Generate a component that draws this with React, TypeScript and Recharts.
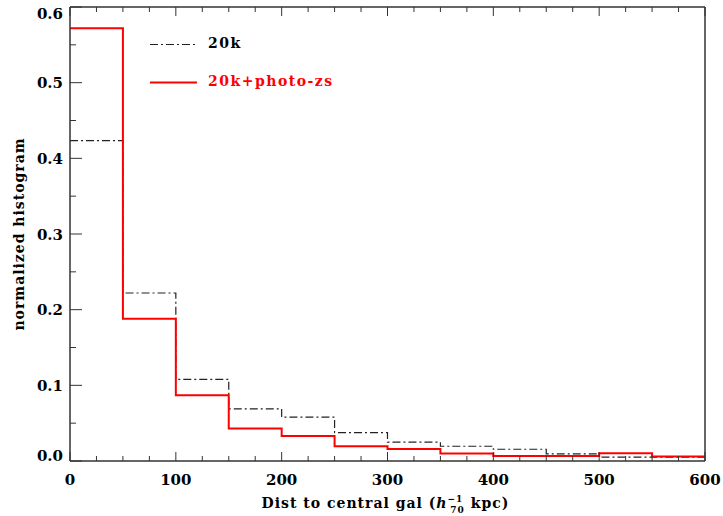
import React from 'react';
import { ComposedChart, Line, XAxis, YAxis, Legend } from 'recharts';

const binEdges = [0, 50, 100, 150, 200, 250, 300, 350, 400, 450, 500, 550, 600];
// value for each bin (last value repeated to close the final step)
const series20k = [0.4235, 0.222, 0.108, 0.069, 0.058, 0.0376, 0.025, 0.0195, 0.0155, 0.0095, 0.0052, 0.005, 0.005];
const series20kPhoto = [0.572, 0.188, 0.087, 0.043, 0.033, 0.0195, 0.016, 0.010, 0.0066, 0.0066, 0.0102, 0.0058, 0.0058];
const xTicks = [0, 25, 50, 75, 100, 125, 150, 175, 200, 225, 250, 275, 300, 325, 350, 375, 400, 425, 450, 475, 500, 525, 550, 575, 600];
const yTicks = [0, 0.05, 0.1, 0.15, 0.2, 0.25, 0.3, 0.35, 0.4, 0.45, 0.5, 0.55, 0.6];

const data = binEdges.map((x, i) => ({ x, a: series20k[i], b: series20kPhoto[i] }));

const FONT = '"DejaVu Serif", serif';
const AXIS = '#333';

const isMajorX = (v: number) => Math.abs(v % 100) < 1e-6;
const isMajorY = (v: number) => Math.abs(Math.round(v * 100) % 10) < 1e-6;

const BottomTick = (p: any) => {
  const { x, y, payload } = p;
  const v = payload.value;
  const major = isMajorX(v);
  return (
    <g>
      <line x1={x} y1={y} x2={x} y2={y - (major ? 9 : 5)} stroke={AXIS} strokeWidth={1} />
      {major && (
        <text x={x} y={y + 24} textAnchor="middle" fontFamily={FONT} fontWeight="bold" fontSize={15} fill="#000">
          {v}
        </text>
      )}
    </g>
  );
};

const TopTick = (p: any) => {
  const { x, y, payload } = p;
  const major = isMajorX(payload.value);
  return <line x1={x} y1={y} x2={x} y2={y + (major ? 9 : 5)} stroke={AXIS} strokeWidth={1} />;
};

const LeftTick = (p: any) => {
  const { x, y, payload } = p;
  const v = payload.value;
  const major = isMajorY(v);
  const shift = v < 1e-6 ? -6 : v > 0.59 ? 6 : 0;
  return (
    <g>
      <line x1={x} y1={y} x2={x + (major ? 12 : 6)} y2={y} stroke={AXIS} strokeWidth={1} />
      {major && (
        <text x={x - 7} y={y + 5.5 + shift} textAnchor="end" fontFamily={FONT} fontWeight="bold" fontSize={15} fill="#000">
          {v.toFixed(1)}
        </text>
      )}
    </g>
  );
};

const RightTick = (p: any) => {
  const { x, y, payload } = p;
  const major = isMajorY(payload.value);
  return <line x1={x} y1={y} x2={x - (major ? 12 : 6)} y2={y} stroke={AXIS} strokeWidth={1} />;
};

const XLabel = (p: any) => {
  const vb = p.viewBox || {};
  const cx = (vb.x || 0) + (vb.width || 0) / 2;
  return (
    <text x={cx - 2} y={507.5} textAnchor="middle" fontFamily={FONT} fontWeight="bold" fontSize={14} letterSpacing={1} fill="#000">
      <tspan>Dist to central gal (</tspan>
      <tspan fontStyle="italic">h</tspan>
      <tspan dy={-6} fontSize={9}>−1</tspan>
      <tspan dx={-13} dy={11} fontSize={9}>70</tspan>
      <tspan dy={-5}> kpc)</tspan>
    </text>
  );
};

const YLabel = (p: any) => {
  const vb = p.viewBox || {};
  const cy = (vb.y || 0) + (vb.height || 0) / 2;
  return (
    <text x={24} y={cy} transform={`rotate(-90, 24, ${cy})`} textAnchor="middle" fontFamily={FONT} fontWeight="bold" fontSize={14} letterSpacing={1} fill="#000">
      normalized histogram
    </text>
  );
};

const LegendContent = () => (
  <div style={{ position: 'absolute', left: 150, top: 30, fontFamily: FONT, fontWeight: 'bold', fontSize: 14, letterSpacing: 1.5 }}>
    <div style={{ position: 'absolute', left: 0, top: 0, whiteSpace: 'nowrap', height: 28 }}>
      <svg width={48} height={28} style={{ position: 'absolute', left: 0, top: 0 }}>
        <line x1={0} y1={14.5} x2={47} y2={14.5} stroke="#222" strokeWidth={1.2} strokeDasharray="8 3 2 3" />
      </svg>
      <span style={{ position: 'absolute', left: 58, top: 5, color: '#000' }}>20k</span>
    </div>
    <div style={{ position: 'absolute', left: 0, top: 38, whiteSpace: 'nowrap', height: 28 }}>
      <svg width={48} height={28} style={{ position: 'absolute', left: 0, top: 0 }}>
        <line x1={0} y1={14.5} x2={47} y2={14.5} stroke="#ff0000" strokeWidth={2} />
      </svg>
      <span style={{ position: 'absolute', left: 58, top: 5, color: '#ff0000' }}>20k+photo-zs</span>
    </div>
  </div>
);

export default function App() {
  return (
    <div style={{ position: 'absolute', left: 0, top: 0, width: 723, height: 516, background: '#fff' }}>
      <ComposedChart width={723} height={516} data={data} margin={{ top: 6, right: 17, bottom: 0, left: 0 }}>
        <XAxis
          xAxisId="bottom"
          dataKey="x"
          type="number"
          domain={[0, 600]}
          ticks={xTicks}
          interval={0}
          height={55}
          tickSize={0}
          tickMargin={0}
          tickLine={false}
          axisLine={{ stroke: AXIS, strokeWidth: 1.5 }}
          tick={<BottomTick />}
          label={{ content: <XLabel /> }}
        />
        <XAxis
          xAxisId="top"
          orientation="top"
          dataKey="x"
          type="number"
          domain={[0, 600]}
          ticks={xTicks}
          interval={0}
          height={1}
          tickSize={0}
          tickMargin={0}
          tickLine={false}
          axisLine={{ stroke: AXIS, strokeWidth: 1.5 }}
          tick={<TopTick />}
        />
        <YAxis
          yAxisId="left"
          type="number"
          domain={[0, 0.6]}
          ticks={yTicks}
          interval={0}
          width={70}
          tickSize={0}
          tickMargin={0}
          tickLine={false}
          axisLine={{ stroke: AXIS, strokeWidth: 1.5 }}
          tick={<LeftTick />}
          label={{ content: <YLabel /> }}
        />
        <YAxis
          yAxisId="right"
          orientation="right"
          type="number"
          domain={[0, 0.6]}
          ticks={yTicks}
          interval={0}
          width={1}
          tickSize={0}
          tickMargin={0}
          tickLine={false}
          axisLine={{ stroke: AXIS, strokeWidth: 1.5 }}
          tick={<RightTick />}
        />
        <Legend content={<LegendContent />} wrapperStyle={{ position: 'absolute', left: 0, top: 0, width: 0, height: 0 }} />
        <Line
          xAxisId="bottom"
          yAxisId="left"
          type="stepAfter"
          dataKey="a"
          name="20k"
          stroke="#222"
          strokeWidth={1.2}
          strokeDasharray="8 3 2 3"
          dot={false}
          activeDot={false}
          isAnimationActive={false}
        />
        <Line
          xAxisId="bottom"
          yAxisId="left"
          type="stepAfter"
          dataKey="b"
          name="20k+photo-zs"
          stroke="#ff0000"
          strokeWidth={2}
          dot={false}
          activeDot={false}
          isAnimationActive={false}
        />
      </ComposedChart>
    </div>
  );
}
